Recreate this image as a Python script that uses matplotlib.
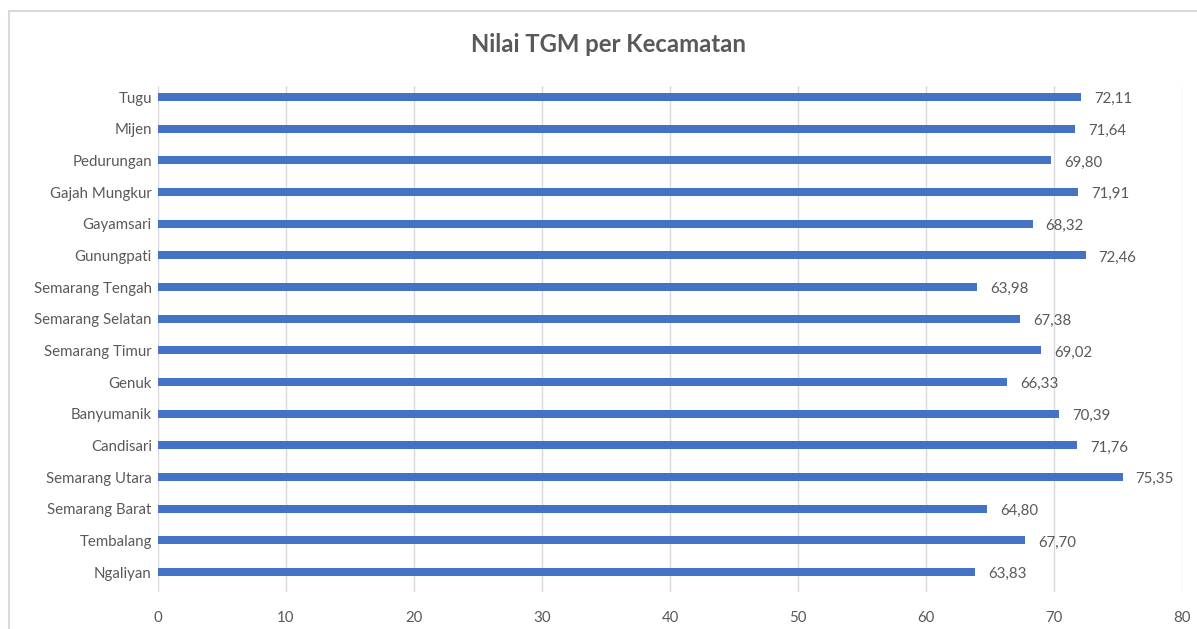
import matplotlib
matplotlib.use("Agg")
import matplotlib.pyplot as plt
from matplotlib.patches import Rectangle

# Data, urutan dari bawah ke atas
kecamatan = [
    "Ngaliyan", "Tembalang", "Semarang Barat", "Semarang Utara", "Candisari",
    "Banyumanik", "Genuk", "Semarang Timur", "Semarang Selatan",
    "Semarang Tengah", "Gunungpati", "Gayamsari", "Gajah Mungkur",
    "Pedurungan", "Mijen", "Tugu",
]
nilai_tgm = [
    63.83, 67.70, 64.80, 75.35, 71.76,
    70.39, 66.33, 69.02, 67.38,
    63.98, 72.46, 68.32, 71.91,
    69.80, 71.64, 72.11,
]
xticks = [0, 10, 20, 30, 40, 50, 60, 70, 80]

plt.rcParams["font.family"] = ["Lato", "DejaVu Sans"]
GRAY = "#595959"
BLUE = "#4472C4"

fig = plt.figure(figsize=(11.97, 6.29), dpi=100)
ax = fig.add_axes([0.132, 0.0588, 0.8555, 0.8045])

pos = list(range(len(kecamatan)))
ax.barh(pos, nilai_tgm, height=0.25, color=BLUE, zorder=3)
for y, v in zip(pos, nilai_tgm):
    ax.annotate(f"{v:.2f}".replace(".", ","), (v, y), xytext=(9.5, -1.5),
                textcoords="offset points", va="center", ha="left",
                fontsize=10.8, color=GRAY)

ax.set_xlim(0, 80)
ax.set_ylim(-0.63, 15.35)
ax.set_xticks(xticks)
ax.set_yticks(pos)
ax.set_yticklabels(kecamatan)
ax.tick_params(axis="both", length=0, labelsize=10.8, labelcolor=GRAY)
ax.tick_params(axis="x", pad=14)
ax.tick_params(axis="y", pad=4.5)
ax.grid(axis="x", color="#D9D9D9", linewidth=1, zorder=0)
for s in ax.spines.values():
    s.set_visible(False)

fig.text(608.5 / 1197, 1 - 44 / 629, "Nilai TGM per Kecamatan", ha="center",
         va="center", fontsize=17.2, fontweight="bold", color=GRAY)

# bingkai area grafik
fig.patches.append(Rectangle((9 / 1197, -0.1), 1.2, 1 - 11 / 629 + 0.1,
                             transform=fig.transFigure, fill=False,
                             edgecolor="#D9D9D9", linewidth=1.5))

fig.savefig("out.png", dpi=100)
